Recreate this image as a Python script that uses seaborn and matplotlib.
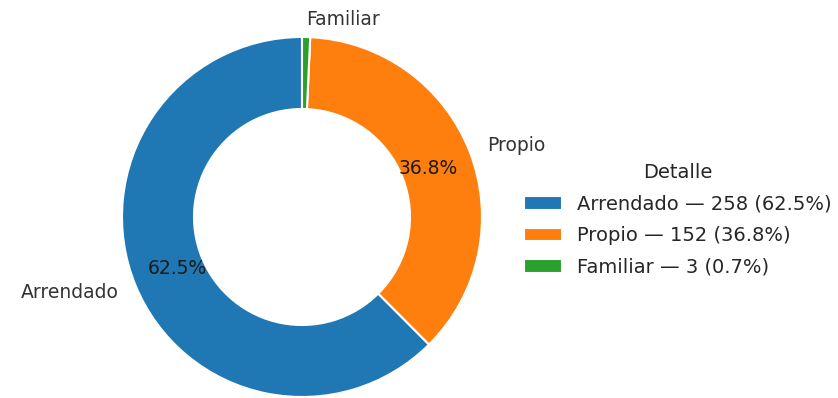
import matplotlib
matplotlib.use("Agg")
import matplotlib.pyplot as plt
import seaborn as sns

# Housing tenure breakdown
categories = ["Arrendado", "Propio", "Familiar"]
counts = [258, 152, 3]
legend_title = "Detalle"

sns.set_style("white")
plt.rcParams["font.family"] = ["DejaVu Sans"]
colors = sns.color_palette("tab10", 3)

total = sum(counts)
shares = [c / total * 100 for c in counts]
legend_labels = [f"{name} — {c} ({s:.1f}%)" for name, c, s in zip(categories, counts, shares)]

fig = plt.figure(figsize=(8.38, 3.98), dpi=100)
# square axes so one data unit spans ~180 px, ring centred left of the legend
unit = 180
half = 1.25 * unit
cx, cy = 302, 181
ax = fig.add_axes([(cx - half) / 838, (cy - half) / 398, 2 * half / 838, 2 * half / 398])

fs = 13.5
wedges, texts, autotexts = ax.pie(
    counts,
    labels=categories,
    colors=colors,
    startangle=90,
    counterclock=True,
    autopct=lambda p: f"{p:.1f}%" if p >= 1 else "",
    pctdistance=0.75,
    labeldistance=1.1,
    wedgeprops=dict(width=0.4, edgecolor="white", linewidth=1.5),
    textprops=dict(fontsize=fs),
)
for t in texts:
    t.set_color("#333333")
for t in autotexts:
    t.set_color("#1a1a1a")
ax.set_xlim(-1.25, 1.25)
ax.set_ylim(-1.25, 1.25)
ax.set_aspect("equal")
ax.axis("off")

fig.legend(
    wedges,
    legend_labels,
    title=legend_title,
    loc="center left",
    bbox_to_anchor=(506 / 838, 178 / 398),
    frameon=False,
    fontsize=14,
    title_fontsize=14,
    labelspacing=0.65,
    handletextpad=0.75,
)

fig.savefig("out.png", dpi=100)
